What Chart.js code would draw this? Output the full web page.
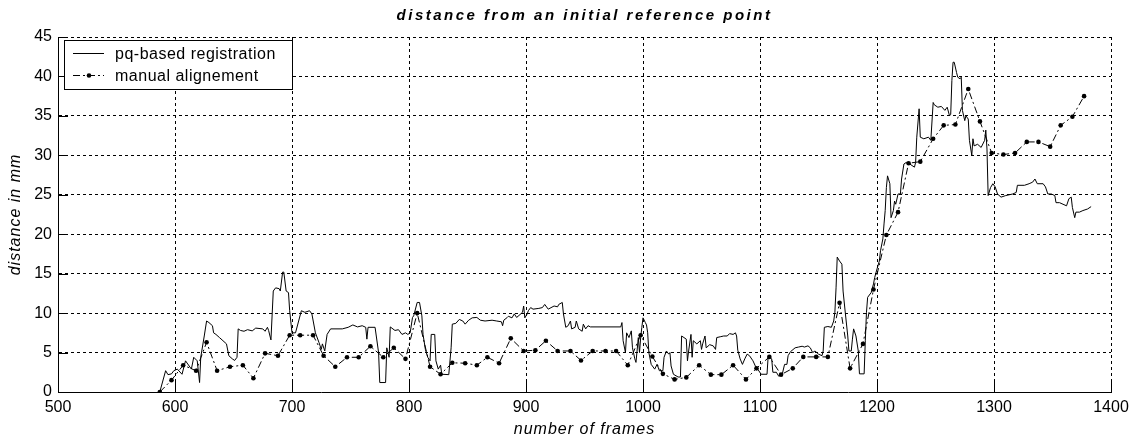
<!DOCTYPE html>
<html>
<head>
<meta charset="utf-8">
<script src="https://cdn.jsdelivr.net/npm/chart.js@4.4.1/dist/chart.umd.min.js"></script>
<style>
    html, body { margin: 0; padding: 0; background: #fff; }
    #wrap { width: 1135px; height: 443px; }
</style>
</head>
<body>
<div id="wrap"><canvas id="grafico"></canvas></div>
<script>
// data
const pqFrames = [
    587, 592, 594, 597, 599, 602, 606, 609, 614, 616, 619, 621, 622, 625, 627, 629, 632, 633, 635, 638,
    641, 644, 646, 649, 651, 653, 654, 656, 659, 662, 666, 669, 675, 677, 679, 680, 682, 684, 686, 689,
    690, 692, 693, 695, 697, 698, 700, 703, 708, 711, 715, 717, 720, 723, 725, 726, 728, 730, 733, 743,
    748, 752, 756, 760, 763, 764, 765, 771, 774, 775, 780, 781, 783, 784, 788, 791, 794, 797, 799, 801,
    803, 804, 807, 809, 811, 812, 814, 816, 818, 819, 822, 823, 825, 827, 828, 834, 836, 837, 840, 843,
    846, 848, 851, 854, 858, 861, 865, 871, 875, 879, 880, 881, 884, 885, 888, 890, 892, 894, 897, 898,
    899, 901, 902, 904, 906, 911, 914, 916, 919, 924, 927, 928, 931, 932, 934, 936, 938, 939, 942, 943,
    945, 948, 949, 951, 953, 955, 981, 982, 983, 985, 986, 988, 990, 991, 993, 994, 996, 997, 998, 999,
    1000, 1002, 1003, 1004, 1005, 1007, 1010, 1012, 1014, 1017, 1018, 1020, 1022, 1023, 1024, 1026, 1030, 1032, 1033, 1035,
    1037, 1038, 1039, 1041, 1042, 1043, 1046, 1049, 1050, 1051, 1053, 1054, 1057, 1060, 1062, 1063, 1066, 1069, 1072, 1074,
    1077, 1079, 1080, 1081, 1083, 1085, 1087, 1089, 1091, 1094, 1096, 1098, 1101, 1106, 1107, 1110, 1111, 1114, 1116, 1119,
    1121, 1123, 1124, 1126, 1130, 1133, 1136, 1138, 1141, 1143, 1145, 1147, 1150, 1153, 1154, 1155, 1158, 1161, 1163, 1164,
    1165, 1166, 1168, 1170, 1171, 1173, 1175, 1176, 1178, 1179, 1180, 1182, 1184, 1185, 1189, 1190, 1191, 1192, 1195, 1197,
    1198, 1200, 1202, 1203, 1205, 1206, 1207, 1208, 1209, 1211, 1212, 1214, 1215, 1216, 1218, 1220, 1221, 1223, 1225, 1228,
    1232, 1233, 1234, 1236, 1237, 1240, 1244, 1246, 1248, 1249, 1252, 1255, 1258, 1260, 1262, 1263, 1264, 1265, 1266, 1268,
    1269, 1271, 1272, 1273, 1275, 1276, 1278, 1279, 1281, 1282, 1283, 1286, 1289, 1292, 1293, 1294, 1295, 1297, 1299, 1301,
    1303, 1306, 1310, 1316, 1319, 1320, 1326, 1330, 1333, 1335, 1337, 1342, 1344, 1346, 1349, 1352, 1353, 1356, 1359, 1362,
    1364, 1366, 1367, 1369, 1370, 1373, 1376, 1380, 1383
];
const pqValues = [
    0, 2.7, 2.2, 2.3, 2.7, 2.9, 2.25, 3.95, 2.9, 4.4, 3.95, 1.2, 4.4, 7.1, 9.0, 8.8, 8.4, 7.5, 7.3, 6.9,
    6.5, 6.1, 4.6, 4.2, 4.0, 4.4, 8.0, 7.8, 7.7, 7.9, 7.75, 8.1, 8.0, 7.7, 8.2, 7.8, 6.6, 12.8, 13.2, 13.1,
    12.8, 15.2, 15.2, 12.8, 12.6, 10.3, 7.5, 7.5, 10.3, 10.1, 10.3, 9.9, 7.5, 6.3, 5.4, 6.1, 5.2, 7.3, 8.0, 8.0,
    8.2, 8.5, 8.25, 8.4, 8.2, 6.7, 8.2, 8.2, 5.0, 1.2, 1.2, 5.6, 4.4, 8.25, 7.8, 7.9, 7.3, 7.5, 7.3, 7.5,
    9.45, 9.65, 11.35, 11.35, 9.65, 7.3, 5.4, 4.4, 3.95, 7.3, 7.3, 3.95, 2.9, 3.4, 2.25, 2.2, 5.6, 8.6, 8.7, 9.2,
    9.0, 8.6, 9.1, 9.4, 9.45, 9.1, 9.0, 9.1, 9.0, 8.9, 8.4, 9.1, 9.45, 9.6, 9.4, 9.9, 9.45, 9.7, 10.1, 10.9,
    9.4, 9.9, 10.3, 10.7, 10.5, 10.6, 10.7, 11.1, 10.5, 10.9, 10.8, 11.1, 11.35, 9.9, 8.2, 8.4, 9.0, 8.0, 8.2, 9.0,
    8.0, 7.7, 8.6, 8.0, 8.4, 8.25, 8.25, 8.8, 6.5, 5.0, 7.5, 6.9, 7.75, 5.6, 4.2, 3.75, 6.9, 5.0, 6.9, 8.2,
    9.4, 8.8, 8.5, 7.5, 5.0, 3.5, 2.9, 3.5, 2.7, 2.7, 4.4, 5.2, 4.8, 5.0, 3.3, 2.25, 1.9, 1.9, 7.1, 6.9,
    6.7, 3.95, 5.2, 7.3, 4.4, 6.5, 6.1, 6.5, 5.4, 6.1, 7.1, 5.6, 6.0, 5.85, 5.4, 6.9, 7.0, 7.1, 7.1, 7.4,
    7.3, 7.5, 7.1, 5.3, 4.2, 3.5, 4.2, 4.8, 4.6, 3.95, 3.3, 2.9, 2.25, 2.25, 4.6, 4.2, 2.5, 2.5, 2.0, 2.25,
    3.5, 3.5, 4.6, 5.1, 5.6, 5.7, 5.8, 5.7, 5.85, 5.6, 5.0, 5.2, 4.8, 4.6, 5.2, 8.2, 8.3, 8.2, 9.0, 10.1,
    13.2, 17.1, 16.6, 16.2, 12.8, 9.9, 7.1, 5.2, 5.2, 6.7, 8.0, 7.1, 5.2, 2.3, 2.3, 6.5, 10.1, 12.0, 12.6, 13.7,
    14.5, 15.6, 16.6, 17.9, 19.4, 21.3, 23.0, 25.9, 27.4, 26.4, 22.1, 23.0, 24.2, 23.8, 25.1, 25.1, 27.0, 28.9, 29.1, 28.9,
    28.5, 29.1, 32.3, 35.9, 32.3, 32.1, 32.3, 31.9, 36.7, 36.4, 36.1, 36.2, 35.7, 36.1, 35.0, 35.2, 39.5, 41.8, 41.8, 40.5,
    39.9, 39.7, 39.9, 35.7, 34.4, 35.0, 34.6, 31.9, 30.0, 32.1, 31.2, 31.4, 31.0, 31.9, 33.2, 30.8, 24.9, 25.9, 26.4, 26.0,
    25.1, 24.7, 24.9, 25.1, 25.3, 26.2, 26.2, 26.4, 26.6, 27.0, 26.4, 26.4, 26.0, 25.1, 25.1, 24.9, 24.0, 24.0, 23.8, 23.6,
    24.5, 24.7, 23.4, 22.1, 22.8, 22.8, 23.0, 23.2, 23.5
];
const manualFrames = [
    587, 597, 607, 618, 627, 636, 647, 658, 667, 677, 688, 698, 707, 718, 727, 737, 747, 757, 767, 778,
    787, 797, 807, 818, 827, 837, 848, 858, 867, 877, 887, 898, 908, 917, 927, 938, 947, 957, 968, 977,
    987, 998, 1008, 1017, 1027, 1037, 1048, 1058, 1067, 1077, 1088, 1097, 1108, 1118, 1128, 1137, 1148, 1158, 1168, 1177,
    1188, 1197, 1208, 1218, 1227, 1237, 1248, 1257, 1267, 1278, 1288, 1298, 1308, 1318, 1328, 1338, 1348, 1357, 1367, 1377
];
const manualValues = [
    0, 1.5, 3.4, 2.7, 6.3, 2.7, 3.2, 3.4, 1.75, 4.9, 4.6, 7.2, 7.2, 7.2, 4.6, 3.2, 4.4, 4.4, 5.8, 4.4,
    5.6, 4.2, 10.0, 3.2, 2.25, 3.7, 3.65, 3.4, 4.4, 3.65, 6.8, 5.2, 5.3, 6.5, 5.2, 5.2, 4.0, 5.2, 5.2, 5.2,
    3.4, 7.2, 4.5, 2.3, 1.6, 1.85, 3.4, 2.2, 2.2, 3.4, 1.6, 3.0, 4.45, 2.2, 3.0, 4.45, 4.45, 4.45, 11.3, 3.0,
    6.1, 13.0, 19.9, 22.8, 29.0, 29.2, 32.1, 33.8, 33.9, 38.4, 34.3, 30.3, 30.1, 30.3, 31.7, 31.7, 31.1, 33.8, 34.9, 37.5
];
const xTicks = [500, 600, 700, 800, 900, 1000, 1100, 1200, 1300, 1400];
const yTicks = [0, 5, 10, 15, 20, 25, 30, 35, 40, 45];

const FONTE = "'Liberation Sans', Arial, sans-serif";
const TRACO_MANUAL = [7, 3, 2, 3];

// title and axis labels, drawn by hand so the letter spacing can follow the original
const textosPlugin = {
    id: 'textos',
    afterDraw(chart) {
        const { ctx, chartArea } = chart;
        const cx = (chartArea.left + chartArea.right) / 2;
        ctx.save();
        ctx.fillStyle = '#000';
        ctx.textAlign = 'center';
        ctx.textBaseline = 'middle';

        ctx.font = `italic bold 15px ${FONTE}`;
        ctx.letterSpacing = '2.5px';
        ctx.fillText('distance from an initial reference point', cx, 16);

        ctx.font = `italic 16px ${FONTE}`;
        ctx.letterSpacing = '1px';
        ctx.fillText('number of frames', cx, 430);

        ctx.translate(16, (chartArea.top + chartArea.bottom) / 2);
        ctx.rotate(-Math.PI / 2);
        ctx.fillText('distance in mm', 0, 0);
        ctx.restore();
    }
};

// inward solid tick marks, like the original plot
const marcasPlugin = {
    id: 'marcas',
    afterDatasetsDraw(chart) {
        const { ctx, chartArea, scales } = chart;
        ctx.save();
        ctx.strokeStyle = '#000';
        ctx.lineWidth = 1;
        ctx.beginPath();
        xTicks.forEach(v => {
            const x = Math.round(scales.x.getPixelForValue(v)) + 0.5;
            ctx.moveTo(x, chartArea.bottom);
            ctx.lineTo(x, chartArea.bottom - 10);
        });
        yTicks.forEach(v => {
            const y = Math.round(scales.y.getPixelForValue(v)) + 0.5;
            ctx.moveTo(chartArea.left, y);
            ctx.lineTo(chartArea.left + 10, y);
        });
        ctx.stroke();
        ctx.restore();
    }
};

// boxed legend in the upper left corner
const legendaPlugin = {
    id: 'legenda',
    afterDatasetsDraw(chart) {
        const { ctx, chartArea } = chart;
        const bx = chartArea.left + 6, by = chartArea.top + 2.5;
        const bw = 228, bh = 49;
        ctx.save();
        ctx.fillStyle = '#fff';
        ctx.fillRect(bx, by, bw, bh);
        ctx.strokeStyle = '#000';
        ctx.lineWidth = 1;
        ctx.strokeRect(Math.round(bx) + 0.5, Math.round(by) + 0.5, bw, bh);

        ctx.font = `16px ${FONTE}`;
        ctx.letterSpacing = '0.5px';
        ctx.fillStyle = '#000';
        ctx.textBaseline = 'middle';
        chart.data.datasets.forEach((ds, i) => {
            const y = Math.round(by + 13 + i * 22) + 0.5;
            ctx.beginPath();
            ctx.setLineDash(ds.borderDash || []);
            ctx.moveTo(bx + 9, y);
            ctx.lineTo(bx + 40, y);
            ctx.stroke();
            ctx.setLineDash([]);
            if (ds.pointRadius > 0) {
                ctx.beginPath();
                ctx.arc(bx + 25, y, ds.pointRadius, 0, Math.PI * 2);
                ctx.fill();
            }
            ctx.fillText(ds.label, bx + 51, y + 1);
        });
        ctx.restore();
    }
};

new Chart(document.getElementById('grafico'), {
    type: 'scatter',
    data: {
        datasets: [
            {
                label: 'pq-based registration',
                data: pqFrames.map((f, i) => ({ x: f, y: pqValues[i] })),
                showLine: true,
                borderColor: '#000',
                borderWidth: 1,
                pointRadius: 0,
                tension: 0
            },
            {
                label: 'manual alignement',
                data: manualFrames.map((f, i) => ({ x: f, y: manualValues[i] })),
                showLine: true,
                borderColor: '#000',
                backgroundColor: '#000',
                borderWidth: 1,
                borderDash: TRACO_MANUAL,
                pointRadius: 2.3,
                pointBorderWidth: 0,
                pointBackgroundColor: '#000',
                tension: 0
            }
        ]
    },
    options: {
        responsive: true,
        maintainAspectRatio: false,
        animation: false,
        layout: { padding: { top: 37, right: 24, left: 0, bottom: 0 } },
        plugins: {
            legend: { display: false },
            tooltip: { enabled: false }
        },
        scales: {
            x: {
                type: 'linear',
                min: 500,
                max: 1400,
                afterBuildTicks: (scale) => { scale.ticks = xTicks.map(v => ({ value: v })); },
                afterFit: (scale) => { scale.height = 51; },
                ticks: {
                    color: '#000', font: { family: FONTE, size: 16 }, padding: 6, maxRotation: 0,
                    callback: (v) => String(v)
                },
                grid: { color: '#000', lineWidth: 1, drawTicks: false },
                border: { display: true, color: '#000', width: 1, dash: [3, 3] }
            },
            y: {
                min: 0,
                max: 45,
                afterBuildTicks: (scale) => { scale.ticks = yTicks.map(v => ({ value: v })); },
                afterFit: (scale) => { scale.width = 58; },
                ticks: {
                    color: '#000', font: { family: FONTE, size: 16 }, padding: 6,
                    callback: (v) => String(v)
                },
                grid: { color: '#000', lineWidth: 1, drawTicks: false },
                border: { display: true, color: '#000', width: 1, dash: [3, 3] }
            }
        }
    },
    plugins: [marcasPlugin, legendaPlugin, textosPlugin]
});
</script>
</body>
</html>
